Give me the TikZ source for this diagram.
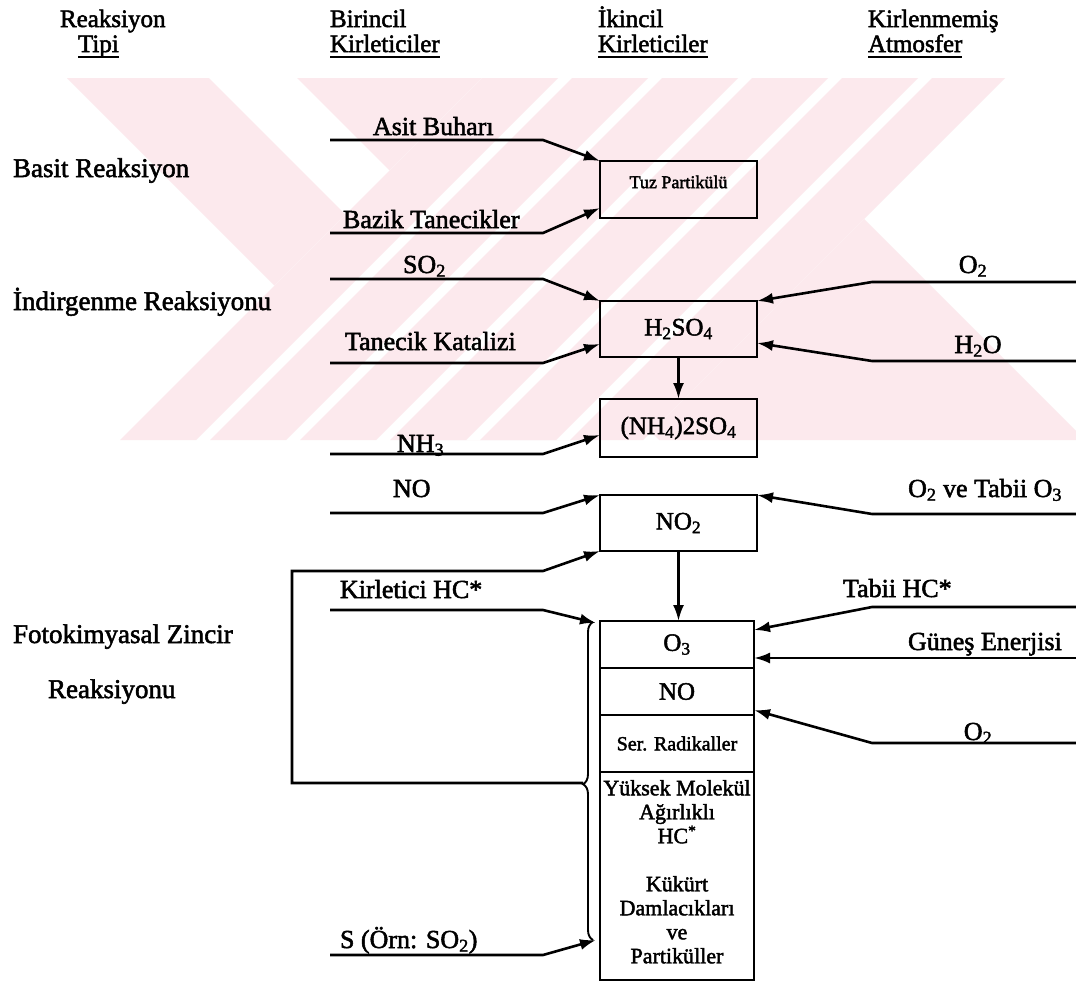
\documentclass[tikz,border=0pt]{standalone}
\usepackage{fontspec}
\setmainfont{Liberation Serif}[FakeBold=2]
\usetikzlibrary{arrows.meta,calc,decorations.pathreplacing}

\definecolor{wmpink}{RGB}{252,233,237}

\begin{document}
\begin{tikzpicture}[x=1pt,y=-1pt,
  every node/.style={inner sep=0pt,outer sep=0pt},
  lbl/.style={font=\fontsize{26}{30}\selectfont},
  rowlbl/.style={font=\fontsize{27}{30}\selectfont},
  hdr/.style={font=\fontsize{25}{30}\selectfont},
  cell/.style={draw,line width=2.6pt,minimum width=157pt,font=\fontsize{25}{30}\selectfont},
  stackcell/.style={draw,line width=2.6pt,minimum width=154pt},
  conn/.style={line width=2.6pt,-{Latex[length=16pt,width=11pt]}},
  uline/.style={line width=1.6pt}
]
\useasboundingbox (0,0) rectangle (1076,983);
\fill[white] (0,0) rectangle (1076,983);

% ---------- background emblem: two crossed striped bands ----------
\begin{scope}
  \clip (0,78) rectangle (1076,440);
  % band running down to the right (x-y constant along its stripes)
  \foreach \ca/\cb in {-11/131, 219/645}{
    \fill[wmpink] (\ca+78,78) -- (\cb+78,78) -- (\cb+440,440) -- (\ca+440,440) -- cycle;
  }
  % band running up to the right (x+y constant along its stripes), lying on top
  \fill[white] (560-78,78) -- (1083-78,78) -- (1083-440,440) -- (560-440,440) -- cycle;
  \foreach \ka/\kb in {560/636, 650/726, 740/816, 830/906, 920/996, 1010/1083}{
    \fill[wmpink] (\ka-78,78) -- (\kb-78,78) -- (\kb-440,440) -- (\ka-440,440) -- cycle;
  }
\end{scope}

% ---------- column headers ----------
\node[hdr,anchor=base west] (h1a) at (60,27) {Reaksiyon};
\node[hdr,anchor=base west] (h1b) at (78,52) {Tipi};
\node[hdr,anchor=base west] (h2a) at (330,27) {Birincil};
\node[hdr,anchor=base west] (h2b) at (330,52) {Kirleticiler};
\node[hdr,anchor=base west] (h3a) at (598,27) {İkincil};
\node[hdr,anchor=base west] (h3b) at (598,52) {Kirleticiler};
\node[hdr,anchor=base west] (h4a) at (868,27) {Kirlenmemiş};
\node[hdr,anchor=base west] (h4b) at (868,52) {Atmosfer};
\foreach \h in {h1b,h2b,h3b,h4b}{
  \draw[uline] ($(\h.base west)+(0,5)$) -- ($(\h.base east)+(0,5)$);
}

% ---------- reaction types ----------
\node[rowlbl,anchor=base west] (r1) at (13,177) {Basit Reaksiyon};
\node[rowlbl,anchor=base west] (r2) at (13,310) {İndirgenme Reaksiyonu};
\node[rowlbl,anchor=base west] (r3) at (13,643) {Fotokimyasal Zincir};
\node[rowlbl,anchor=base west] (r4) at (48,698) {Reaksiyonu};

% ---------- secondary pollutants ----------
\node[cell,minimum height=57pt] (tuz) at (678.5,189.5) {};
\node[font=\fontsize{18}{20}\selectfont] (tuzt) at (678.5,182) {Tuz Partikülü};
\node[cell,minimum height=56pt] (h2so4) at (678.5,329) {H\textsubscript{2}SO\textsubscript{4}};
\node[cell,minimum height=58pt] (nh4) at (678.5,428) {(NH\textsubscript{4})2SO\textsubscript{4}};
\node[cell,minimum height=56pt] (no2) at (678.5,523) {NO\textsubscript{2}};

\node[stackcell,minimum height=47pt,font=\fontsize{25}{30}\selectfont] (o3) at (677,644.5) {O\textsubscript{3}};
\node[stackcell,minimum height=47pt,font=\fontsize{25}{30}\selectfont] (nob) at (677,691.5) {NO};
\node[stackcell,minimum height=57pt,font=\fontsize{20}{23}\selectfont] (ser) at (677,743.5) {Ser. Radikaller};
\node[stackcell,minimum height=208pt] (big) at (677,876) {};
\node[font=\fontsize{22}{24}\selectfont,align=center,anchor=north] (bigt) at (677,780)
  {Yüksek Molekül\\Ağırlıklı\\HC\textsuperscript{*}\\[24pt]Kükürt\\Damlacıkları\\ve\\Partiküller};

\draw[conn] (h2so4.south) -- (nh4.north);
\draw[conn] (no2.south) -- (no2.south |- o3.north);

% ---------- primary pollutants (left) ----------
\coordinate (a1) at (330,140);  \coordinate (a2) at (543,140);
\coordinate (b1) at (330,233);  \coordinate (b2) at (543,233);
\coordinate (c1) at (330,279);  \coordinate (c2) at (543,279);
\coordinate (d1) at (330,363);  \coordinate (d2) at (543,363);
\coordinate (e1) at (330,454);  \coordinate (e2) at (543,454);
\coordinate (f1) at (330,513);  \coordinate (f2) at (543,513);
\coordinate (g1) at (330,610);  \coordinate (g2) at (543,610);
\coordinate (s1) at (330,955);  \coordinate (s2) at (543,955);

\node[lbl,anchor=base west] (la) at (373,135) {Asit Buharı};
\node[lbl,anchor=base west] (lb) at (343,228) {Bazik Tanecikler};
\node[lbl,anchor=base west] (lc) at (403,273) {SO\textsubscript{2}};
\node[lbl,anchor=base west] (ld) at (345,350) {Tanecik Katalizi};
\node[lbl,anchor=base west] (le) at (397,452) {NH\textsubscript{3}};
\node[lbl,anchor=base west] (lf) at (393,497) {NO};
\node[lbl,anchor=base west] (lg) at (340,598) {Kirletici HC*};
\node[lbl,anchor=base west] (ls) at (340,948) {S (Örn: SO\textsubscript{2})};

\draw[conn] (a1) -- (a2) -- (tuz.north west);
\draw[conn] (b1) -- (b2) -- ($(tuz.south west)+(0,-10)$);
\draw[conn] (c1) -- (c2) -- (h2so4.north west);
\draw[conn] (d1) -- (d2) -- ($(h2so4.south west)+(0,-13)$);
\draw[conn] (e1) -- (e2) -- ($(nh4.south west)+(0,-22)$);
\draw[conn] (f1) -- (f2) -- (no2.north west);
\draw[conn] (g1) -- (g2) -- ($(o3.north west)+(-4,2)$);
\draw[conn] (s1) -- (s2) -- (596,940);

% ---------- feedback loop with brace ----------
\coordinate (bt) at (593,622);
\coordinate (bb) at (593,940);
\coordinate (tip) at (583,783);
\coordinate (lp1) at (292,783);
\coordinate (lp2) at (292,571);
\coordinate (lp3) at (543,571);
\draw[line width=1.9pt,decorate,decoration={brace,amplitude=10pt,aspect=0.49}] (bb) -- (bt);
\draw[conn] (tip) -- (lp1) -- (lp2) -- (lp3) -- (no2.south west);

% ---------- unpolluted atmosphere (right) ----------
\coordinate (p1) at (1076,282); \coordinate (p2) at (872,282);
\coordinate (q1) at (1076,361); \coordinate (q2) at (872,361);
\coordinate (t1) at (1076,514); \coordinate (t2) at (872,514);
\coordinate (u1) at (1076,607); \coordinate (u2) at (872,607);
\coordinate (v1) at (1076,658);
\coordinate (w1) at (1076,743); \coordinate (w2) at (872,743);

\node[lbl,anchor=base] (rp) at (973,273) {O\textsubscript{2}};
\node[lbl,anchor=base] (rq) at (978,353) {H\textsubscript{2}O};
\node[lbl,anchor=base east] (rt) at (1062,497) {O\textsubscript{2} ve Tabii O\textsubscript{3}};
\node[lbl,anchor=base west] (ru) at (843,597) {Tabii HC*};
\node[lbl,anchor=base west] (rv) at (908,650) {Güneş Enerjisi};
\node[lbl,anchor=base] (rw) at (978,740) {O\textsubscript{2}};

\draw[conn] (p1) -- (p2) -- (h2so4.north east);
\draw[conn] (q1) -- (q2) -- ($(h2so4.south east)+(0,-14)$);
\draw[conn] (t1) -- (t2) -- (no2.north east);
\draw[conn] (u1) -- (u2) -- ($(o3.north east)+(0,9)$);
\draw[conn] (v1) -- ($(o3.south east)+(0,-10)$);
\draw[conn] (w1) -- (w2) -- ($(nob.south east)+(0,-5)$);
\end{tikzpicture}
\end{document}
